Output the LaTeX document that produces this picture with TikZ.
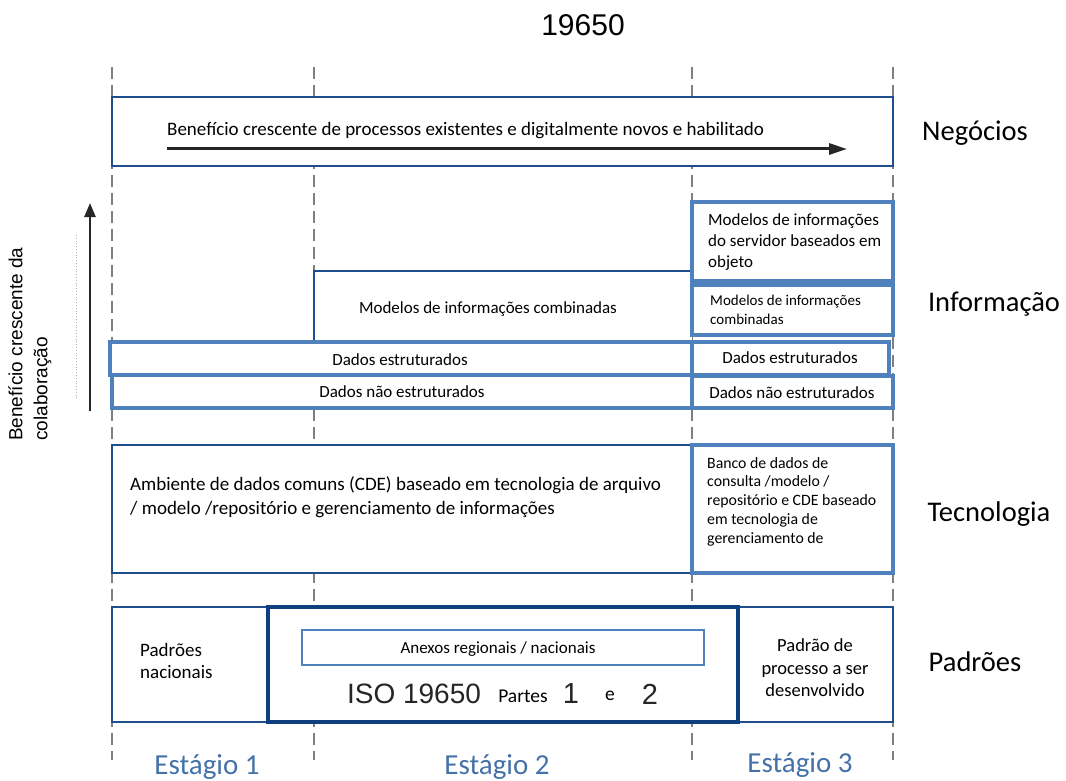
\documentclass[tikz,border=0pt]{standalone}
\usepackage{fontspec}
\setmainfont{Carlito}
\newfontfamily\arialf{Liberation Sans}
\usetikzlibrary{arrows.meta}
\definecolor{navy}{HTML}{1F4E8C}
\definecolor{deepnavy}{HTML}{0E3F7E}
\definecolor{midblue}{HTML}{4F81BD}
\definecolor{stageblue}{HTML}{4472A8}
\definecolor{guide}{HTML}{7F7F7F}
\newcommand{\fs}[2]{\fontsize{#1}{#2}\selectfont}
\begin{document}
\begin{tikzpicture}[x=1pt,y=-1pt,
  txt/.style={inner sep=0pt, font=\fs{17}{20}},
  layer/.style={inner sep=0pt, font=\fs{28.5}{32}},
  stagelbl/.style={inner sep=0pt, text=stageblue, font=\fs{29}{32}},
  guideline/.style={guide, line width=1.5pt, dash pattern=on 12pt off 6pt},
  darkbox/.style={draw=navy, line width=2.5pt, fill=white},
  lightbox/.style={draw=midblue, line width=3.5pt, fill=white},
  databox/.style={draw=midblue, line width=4pt, fill=white},
]
\useasboundingbox (0,0) rectangle (1066,781);

% stage separators
\foreach \gx in {112,314,692,893}
  \draw[guideline] (\gx,67) -- (\gx,760);

% title
\node[inner sep=0pt, font=\arialf\fs{30}{34}] (title) at (583,25) {19650};

% business layer
\draw[darkbox] (112,97) rectangle (893,166);
\node[txt, anchor=west, font=\fs{19}{22}] (bizt) at (167,131) {Benefício crescente de processos existentes e digitalmente novos e habilitado};
\coordinate (ha0) at (167,149);
\coordinate (ha1) at (847,149);
\draw[black!85, line width=3pt, -{Triangle[length=18pt,width=11pt]}] (ha0) -- (ha1);
\node[layer] (negocios) at (975,133) {Negócios};

% information layer
\fill[white] (314,271) rectangle (692,342);
\draw[navy, line width=2.5pt] (314,342) -- (314,271) -- (692,271);
\node[txt] (modcomb) at (488,309) {Modelos de informações combinadas};
\draw[databox] (110,342) rectangle (692,375);
\node[txt] (dest) at (400,360) {Dados estruturados};
\draw[databox] (112,375) rectangle (692,408);
\node[txt] (dnest) at (402,392) {Dados não estruturados};

\draw[lightbox] (692,202) rectangle (893,281);
\node[txt, anchor=north west, align=left, font=\fs{17}{21}] (modserv) at (708,213) {Modelos de informações\\do servidor baseados em\\objeto};
\draw[lightbox] (692,285) rectangle (893,335);
\node[txt, anchor=north west, align=left, font=\fs{15}{19}] (modcomb3) at (710,295) {Modelos de informações\\combinadas};
\draw[lightbox] (692,342) rectangle (889,375);
\node[txt] (dest3) at (790,358) {Dados estruturados};
\draw[lightbox] (692,376) rectangle (893,408);
\node[txt] (dnest3) at (792,393) {Dados não estruturados};
\node[layer] (informacao) at (994,304) {Informação};

% collaboration axis
\draw[guide!60, line width=0.8pt, dotted] (76,235) -- (76,398);
\coordinate (va0) at (90,411);
\coordinate (va1) at (90,203);
\draw[black!85, line width=2.5pt, -{Triangle[length=14pt,width=11pt]}] (va0) -- (va1);
\node[inner sep=0pt, rotate=90, anchor=west, align=left, font=\arialf\fs{19}{25}] (colab) at (30,441) {Benefício crescente da\\colaboração};

% technology layer
\draw[darkbox] (112,445) rectangle (692,573);
\node[txt, anchor=north west, align=left, font=\fs{19}{24}] (cde) at (130,476) {Ambiente de dados comuns (CDE) baseado em tecnologia de arquivo\\/ modelo /repositório e gerenciamento de informações};
\draw[lightbox] (692,445) rectangle (893,573);
\node[txt, anchor=north west, align=left, font=\fs{15.8}{18.8}] (banco) at (707,457) {Banco de dados de\\consulta /modelo /\\repositório e CDE baseado\\em tecnologia de\\gerenciamento de};
\node[layer] (tecnologia) at (989,514) {Tecnologia};

% standards layer
\draw[darkbox, line width=2.2pt] (112,607) rectangle (268,722);
\node[txt, anchor=north west, align=left, font=\fs{19}{22}] (pnac) at (140,643) {Padrões\\nacionais};
\draw[darkbox, line width=2.2pt] (738,607) rectangle (893,722);
\node[txt, align=center, font=\fs{18.5}{22.5}] (pproc) at (815,668) {Padrão de\\processo a ser\\desenvolvido};
\draw[draw=deepnavy, line width=4.5pt, fill=white] (268,607) rectangle (738,722);
\draw[draw=midblue, line width=1.3pt] (302,630) rectangle (704,665);
\node[txt, font=\fs{17}{20}] (anexos) at (498,649) {Anexos regionais / nacionais};
\node[inner sep=0pt, text=black!85, font=\arialf\fs{28}{30}] (iso) at (414,694) {ISO 19650};
\node[txt, font=\fs{19.5}{22}] (partes) at (523,696) {Partes};
\node[inner sep=0pt, text=black!85, font=\arialf\fs{29}{30}] (p1) at (571,694) {1};
\node[txt, font=\fs{19.5}{22}] (conj) at (610,696) {e};
\node[inner sep=0pt, text=black!85, font=\arialf\fs{29}{30}] (p2) at (650,694) {2};
\node[layer] (padroes) at (975,662) {Padrões};

% stages
\node[stagelbl] (st1) at (207,767) {Estágio 1};
\node[stagelbl] (st2) at (497,767) {Estágio 2};
\node[stagelbl] (st3) at (800,765) {Estágio 3};
\end{tikzpicture}
\end{document}
